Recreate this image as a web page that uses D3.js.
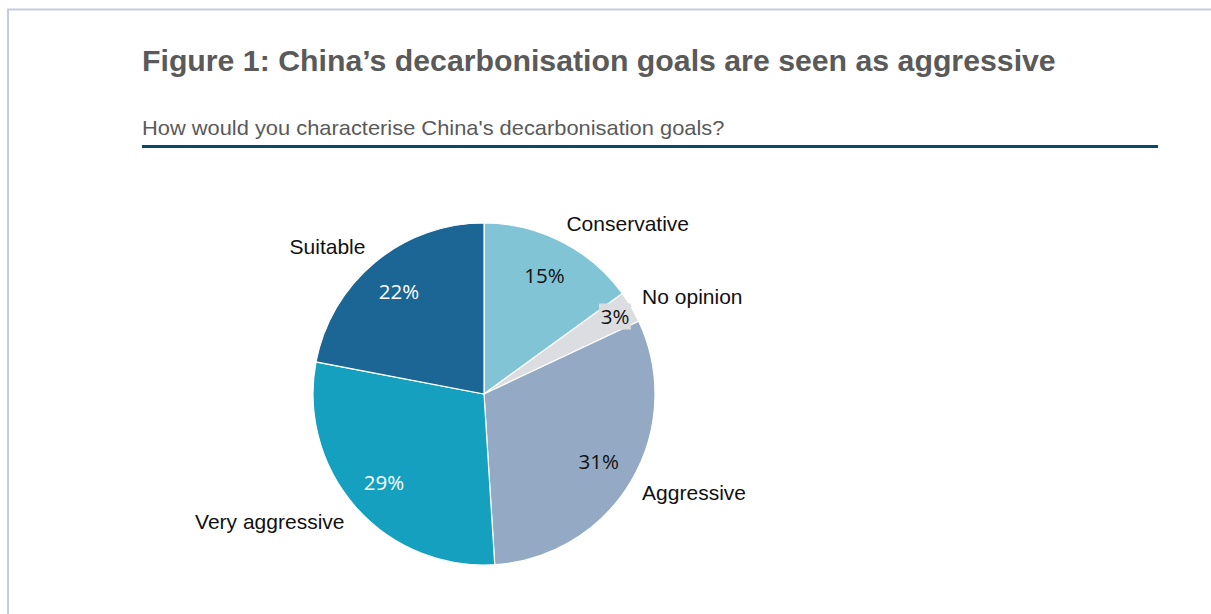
<!DOCTYPE html>
<html>
<head>
<meta charset="utf-8">
<script src="https://cdn.jsdelivr.net/npm/d3@7"></script>
<style>
  html, body { margin: 0; padding: 0; background: #ffffff; }
  svg { display: block; }
</style>
</head>
<body>
<svg id="chart" width="1211" height="614"></svg>
<script>
const titleText = "Figure 1: China\u2019s decarbonisation goals are seen as aggressive";
const subtitleText = "How would you characterise China's decarbonisation goals?";
const categories = ["Conservative", "No opinion", "Aggressive", "Very aggressive", "Suitable"];
const values = [15, 3, 31, 29, 22];
const colors = ["#80c4d6", "#dcdde0", "#94aac4", "#14a0be", "#1b6694"];
const pctColors = ["#111111", "#111111", "#111111", "#ffffff", "#ffffff"];

const svg = d3.select("#chart");
const W = 1211, H = 614;

// frame
svg.append("path")
  .attr("d", `M8,${H} L8,9.5 L${W},9.5`)
  .attr("fill", "none")
  .attr("stroke", "#c3cde2")
  .attr("stroke-width", 2);

// title
const title = svg.append("text")
  .attr("x", 142).attr("y", 71)
  .attr("font-family", "Liberation Sans, Arial, sans-serif")
  .attr("font-weight", "bold")
  .attr("font-size", 30)
  .attr("fill", "#5a5a5a")
  .text(titleText);
const tw = title.node().getComputedTextLength();
title.attr("transform", `translate(142,0) scale(${914 / tw},1) translate(-142,0)`);

// subtitle
const sub = svg.append("text")
  .attr("x", 142).attr("y", 135)
  .attr("font-family", "Liberation Sans, Arial, sans-serif")
  .attr("font-size", 20)
  .attr("fill", "#5a5a5a")
  .text(subtitleText);
const sw = sub.node().getComputedTextLength();
sub.attr("transform", `translate(142,0) scale(${583 / sw},1) translate(-142,0)`);

// rule
svg.append("line")
  .attr("x1", 142).attr("x2", 1158)
  .attr("y1", 146.5).attr("y2", 146.5)
  .attr("stroke", "#0b4a66")
  .attr("stroke-width", 3);

// pie
const cx = 484, cy = 394, R = 171;
const data = categories.map((c, i) => ({ name: c, value: values[i], color: colors[i], pc: pctColors[i] }));
const pie = d3.pie().value(d => d.value).sort(null);
const arcs = pie(data);
const arc = d3.arc().innerRadius(0).outerRadius(R);

const g = svg.append("g").attr("transform", `translate(${cx},${cy})`);
g.selectAll("path.slice")
  .data(arcs)
  .join("path")
  .attr("class", "slice")
  .attr("d", arc)
  .attr("fill", d => d.data.color)
  .attr("stroke", "#ffffff")
  .attr("stroke-width", 1.2);

// percentage labels
const pctArc = d3.arc().innerRadius(R * 0.78).outerRadius(R * 0.78);
const smallArc = d3.arc().innerRadius(R * 0.89).outerRadius(R * 0.89);
const pctG = g.selectAll("g.pct")
  .data(arcs)
  .join("g")
  .attr("class", "pct")
  .attr("transform", d => {
    const c = (d.data.value < 5 ? smallArc : pctArc).centroid(d);
    return `translate(${c[0]},${c[1]})`;
  });
pctG.each(function(d) {
  const sel = d3.select(this);
  if (d.data.value < 5) {
    sel.append("rect")
      .attr("x", -16).attr("y", -13)
      .attr("width", 32).attr("height", 26)
      .attr("fill", d.data.color);
  }
  sel.append("text")
    .attr("text-anchor", "middle")
    .attr("y", 7.5)
    .attr("font-family", "Open Sans, Noto Sans, sans-serif")
    .attr("font-size", 20.5)
    .attr("fill", d.data.pc)
    .text(d.data.value + "%");
});

// category labels
const labR = R + 15;
g.selectAll("text.cat")
  .data(arcs)
  .join("text")
  .attr("class", "cat")
  .each(function(d) {
    const a = (d.startAngle + d.endAngle) / 2;
    const px = labR * Math.sin(a);
    const py = -labR * Math.cos(a);
    d3.select(this)
      .attr("x", px + (Math.sin(a) > 0 ? -2 : 0))
      .attr("y", py + 8 - 6 * Math.cos(a))
      .attr("text-anchor", Math.sin(a) > 0 ? "start" : "end");
  })
  .attr("font-family", "Liberation Sans, Arial, sans-serif")
  .attr("font-size", 21)
  .attr("fill", "#111111")
  .text(d => d.data.name);
</script>
</body>
</html>
